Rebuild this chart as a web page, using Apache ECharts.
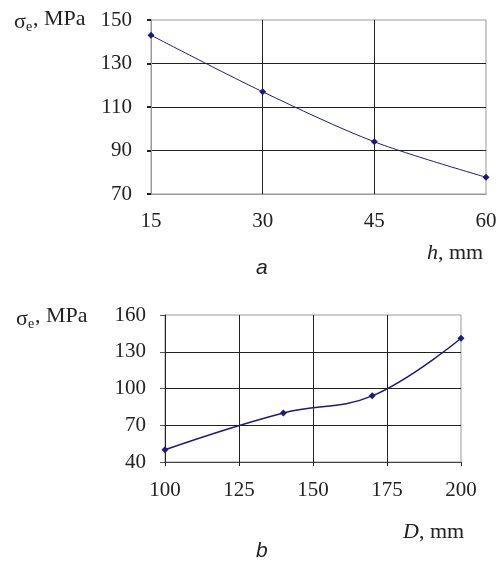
<!DOCTYPE html>
<html>
<head>
<meta charset="utf-8">
<script src="https://cdn.jsdelivr.net/npm/echarts@6/dist/echarts.min.js"></script>
<style>
html,body{margin:0;padding:0;background:#fff;}
#c{width:500px;height:563px;}
</style>
</head>
<body>
<div id="c"></div>
<script>
// Chart a: sigma_e vs h
var hValues = [15, 30, 45, 60];
var sigmaA = [143, 117, 94, 77.7];
var hTicks = {min: 15, max: 60, interval: 15};
var sigmaATicks = {min: 70, max: 150, interval: 20};

// Chart b: sigma_e vs D
var dValues = [100, 140, 170, 200];
var sigmaB = [50, 80, 94, 141];
var dTicks = {min: 100, max: 200, interval: 25};
var sigmaBTicks = {min: 40, max: 160, interval: 30};

var serif = '"Liberation Serif", "Times New Roman", serif';
var sans = '"Liberation Sans", Arial, sans-serif';
var lineColor = '#1c1c78';
var dark = '#222';
var gray = '#999';
var fs = 21;

function pairs(xs, ys) { return xs.map(function (x, i) { return [x, ys[i]]; }); }
function txt(x, y, s, size, family, italic) {
  return {type: 'text', left: x, top: y, style: {text: s, fontSize: size, fontFamily: family, fontStyle: italic ? 'italic' : 'normal', fill: '#222'}};
}

var chart = echarts.init(document.getElementById('c'), null, {renderer: 'canvas'});
chart.setOption({
  animation: false,
  grid: [
    {left: 151, top: 20, width: 335, height: 174, show: true, borderColor: gray, borderWidth: 1, containLabel: false},
    {left: 165, top: 315, width: 296, height: 147, show: true, borderColor: gray, borderWidth: 1, containLabel: false}
  ],
  xAxis: [
    {
      gridIndex: 0, type: 'value', min: hTicks.min, max: hTicks.max, interval: hTicks.interval,
      axisLine: {show: true, lineStyle: {color: gray, width: 1}},
      axisTick: {show: false},
      axisLabel: {fontFamily: serif, fontSize: fs, color: '#222', margin: 17},
      splitLine: {show: true, showMinLine: false, showMaxLine: false, lineStyle: {color: dark, width: 1}}
    },
    {
      gridIndex: 1, type: 'value', min: dTicks.min, max: dTicks.max, interval: dTicks.interval,
      axisLine: {show: true, lineStyle: {color: '#444', width: 1}},
      axisTick: {show: true, length: 4, lineStyle: {color: dark}},
      axisLabel: {fontFamily: serif, fontSize: fs, color: '#222', margin: 18},
      splitLine: {show: true, showMinLine: false, showMaxLine: false, lineStyle: {color: dark, width: 1}}
    }
  ],
  yAxis: [
    {
      gridIndex: 0, type: 'value', min: sigmaATicks.min, max: sigmaATicks.max, interval: sigmaATicks.interval,
      axisLine: {show: true, lineStyle: {color: gray, width: 1}},
      axisTick: {show: true, length: 4, lineStyle: {color: dark, width: 2}},
      axisLabel: {fontFamily: serif, fontSize: fs, color: '#222', margin: 19},
      splitLine: {show: true, showMinLine: false, showMaxLine: false, lineStyle: {color: dark, width: 1}}
    },
    {
      gridIndex: 1, type: 'value', min: sigmaBTicks.min, max: sigmaBTicks.max, interval: sigmaBTicks.interval,
      axisLine: {show: true, lineStyle: {color: dark, width: 1}},
      axisTick: {show: true, length: 5, lineStyle: {color: '#555'}},
      axisLabel: {fontFamily: serif, fontSize: fs, color: '#222', margin: 19},
      splitLine: {show: true, showMinLine: false, showMaxLine: false, lineStyle: {color: dark, width: 1}}
    }
  ],
  series: [
    {
      type: 'line', xAxisIndex: 0, yAxisIndex: 0, data: pairs(hValues, sigmaA),
      smooth: 0.3, symbol: 'diamond', symbolSize: 7,
      lineStyle: {color: lineColor, width: 1}, itemStyle: {color: lineColor}
    },
    {
      type: 'line', xAxisIndex: 1, yAxisIndex: 1, data: pairs(dValues, sigmaB),
      smooth: 0.4, symbol: 'diamond', symbolSize: 7,
      lineStyle: {color: lineColor, width: 1.5}, itemStyle: {color: lineColor}
    }
  ],
  graphic: [
    txt(14, 11, 'σ', 22, serif),
    txt(26, 20, 'e', 14, serif),
    txt(33, 8, ', MPa', 22, serif),
    txt(427, 242, 'h', 22, serif, true),
    txt(438, 242, ', mm', 22, serif),
    txt(256, 258, 'a', 21, sans, true),

    txt(16, 308, 'σ', 22, serif),
    txt(28, 317, 'e', 14, serif),
    txt(35, 305, ', MPa', 22, serif),
    txt(403, 521, 'D', 22, serif, true),
    txt(419, 521, ', mm', 22, serif),
    txt(256, 541, 'b', 21, sans, true)
  ]
});
</script>
</body>
</html>
